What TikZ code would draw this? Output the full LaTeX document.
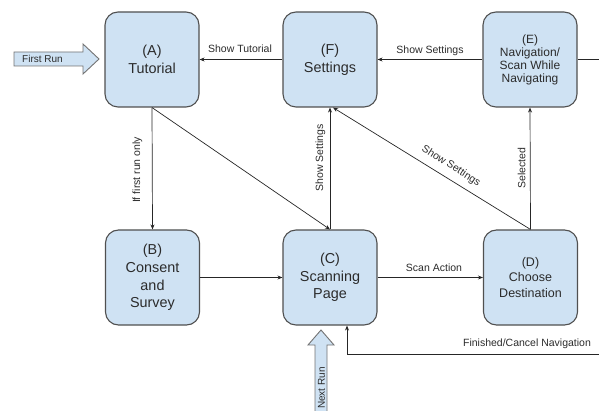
\documentclass[tikz,border=0pt]{standalone}
\usepackage{fontspec}
\setmainfont{Liberation Sans}
\usetikzlibrary{arrows.meta,calc}
\definecolor{boxfill}{HTML}{CFE2F3}
\definecolor{boxline}{HTML}{505050}
\definecolor{txt}{HTML}{2B2B2B}
\begin{document}
\begin{tikzpicture}[x=1pt,y=-1pt,
  state/.style={draw=boxline, line width=1.1pt, fill=boxfill, rounded corners=13pt,
    minimum width=94pt, minimum height=95pt, align=center, text=txt,
    font=\fontsize{14.4}{17.6}\selectfont, inner sep=2pt},
  conn/.style={draw=black!85, line width=0.7pt, -{Stealth[length=5pt,width=4pt]}},
  plain/.style={draw=black!85, line width=0.7pt},
  lbl/.style={font=\fontsize{10.5}{12}\selectfont, text=txt, inner sep=1pt},
  bigarrow/.style={draw=boxline!80, fill=boxfill, line width=0.9pt, line join=miter}
]
\useasboundingbox (0,0) rectangle (599,411);

% states
\node[state] (A) at (152,59.5) {(A)\\Tutorial};
\node[state] (F) at (330,59.5) {(F)\\Settings};
\node[state, font=\fontsize{12}{13}\selectfont] (E) at (530,59.5) {(E)\\Navigation/\\Scan While\\Navigating};
\node[state] (B) at (152.5,277.5) {(B)\\Consent\\and\\Survey};
\node[state] (C) at (330,277.5) {(C)\\Scanning\\Page};
\node[state, font=\fontsize{12.5}{15.7}\selectfont] (D) at (530.5,277.5) {(D)\\Choose\\Destination};

% First Run arrow
\draw[bigarrow] (14,52) -- (83,52) -- (83,44) -- (99,59) -- (83,74) -- (83,66) -- (14,66) -- cycle;
\node[lbl, font=\fontsize{10}{12}\selectfont, anchor=west] (firstrun) at (21,59) {First Run};

% Next Run arrow
\draw[bigarrow] (315,413) -- (315,345) -- (308,345) -- (321,330) -- (334,345) -- (327,345) -- (327,413);
\node[lbl, font=\fontsize{10}{12}\selectfont, rotate=90] (nextrun) at (321.5,388) {Next Run};

% connectors
\draw[conn] (F.west) -- (A.east);
\node[lbl] (lTut) at (240,49) {Show Tutorial};

\draw[conn] (E.west) -- (F.east);
\node[lbl] (lSetE) at (430,51) {Show Settings};

\draw[conn] (A.south) -- (B.north);
\node[lbl, rotate=90] (lFirst) at (137.5,170) {If first run only};

\draw[conn] (A.south) -- (C.north);
\draw[conn] (B.east) -- (C.west);

\draw[conn] (C.north) -- (F.south);
\node[lbl, rotate=90] (lSetC) at (320.5,158) {Show Settings};

\draw[conn] (D.north) -- ($(F.south)+(3,0)$);
\node[lbl, rotate=-32.5] (lSetD) at (451,166) {Show Settings};

\draw[conn] (D.north) -- (E.south);
\node[lbl, rotate=90] (lSel) at (521.5,168) {Selected};

\draw[conn] (C.east) -- (D.west);
\node[lbl] (lScan) at (434,268) {Scan Action};

% Finished / Cancel Navigation
\coordinate (eR) at (599,59.5);
\coordinate (f1) at (599,354);
\coordinate (f2) at (347,354);
\draw[plain] (E.east) -- (eR);
\draw[conn] (f1) -- (f2) -- (f2 |- C.south);
\node[lbl] (lFin) at (527,344) {Finished/Cancel Navigation};
\end{tikzpicture}
\end{document}
